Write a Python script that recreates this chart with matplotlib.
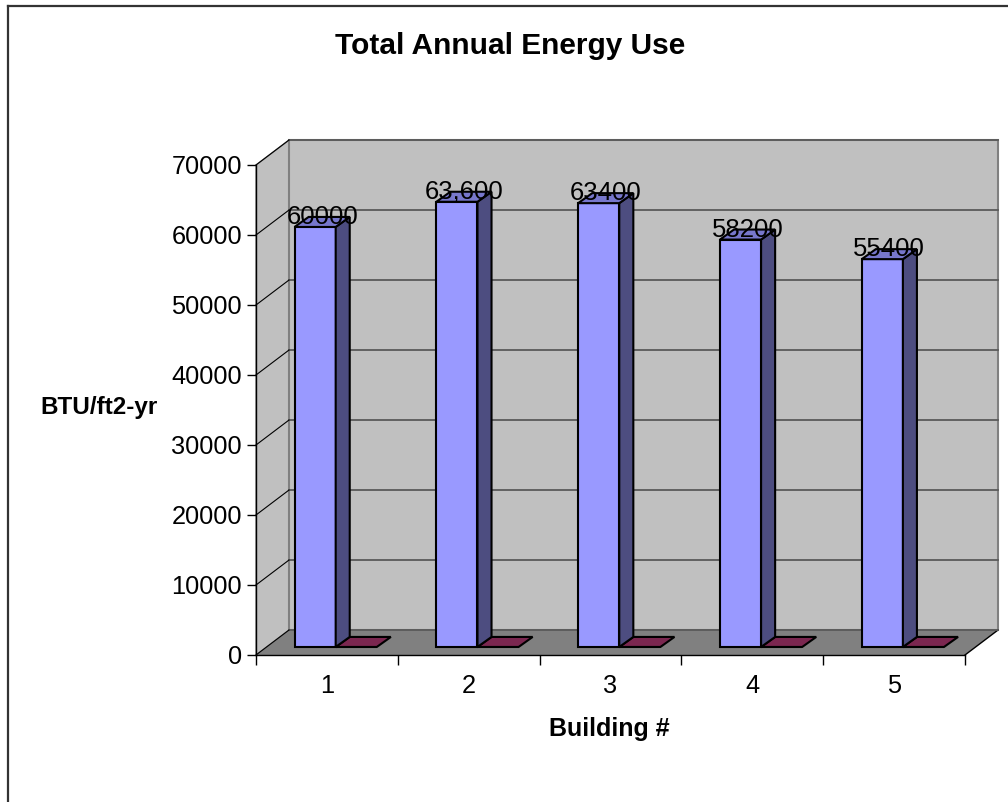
import matplotlib.pyplot as plt
from matplotlib.patches import Polygon
from matplotlib.lines import Line2D

plt.rcParams['font.family'] = ['Liberation Sans', 'DejaVu Sans']

buildings = ['1', '2', '3', '4', '5']
energy_use = [60000, 63600, 63400, 58200, 55400]
energy_labels = ['60000', '63,600', '63400', '58200', '55400']
second_series = [0, 0, 0, 0, 0]
y_ticks = [0, 10000, 20000, 30000, 40000, 50000, 60000, 70000]

# depth of the 3d box in data units (x in categories, y in BTU)
DX, DY = 0.233, 3570
# bar geometry inside each category slot
BASE = 1150
BW = 0.29
BDX, BDY = 0.099, 1430
YMAX = 70000

fig = plt.figure(figsize=(10.08, 8.02), dpi=100)
ax = fig.add_axes([256 / 1008, 1 - 655 / 802, 709 / 1008, 490 / 802])
ax.set_xlim(0.5, 5.5)
ax.set_ylim(0, YMAX)
ax.patch.set_visible(False)


def poly(pts, fc, ec='none', lw=0, z=1):
    ax.add_patch(Polygon(pts, closed=True, facecolor=fc, edgecolor=ec,
                         linewidth=lw, zorder=z, clip_on=False))


x0, x1 = 0.5, 5.5
# walls and floor
poly([(x0, 0), (x0 + DX, DY), (x0 + DX, YMAX + DY), (x0, YMAX)], '#C0C0C0', '#808080', 1.0, 0.5)
poly([(x0 + DX, DY), (x1 + DX, DY), (x1 + DX, YMAX + DY), (x0 + DX, YMAX + DY)],
     '#C0C0C0', '#808080', 1.5, 0.5)
poly([(x0, 0), (x1, 0), (x1 + DX, DY), (x0 + DX, DY)], '#808080', 'none', 0, 0.6)
ax.plot([x1, x1 + DX], [0, DY], color='black', lw=1.0, zorder=0.7, clip_on=False)

# gridlines on back wall and left wall
for v in y_ticks:
    ax.plot([x0 + DX, x1 + DX], [v + DY, v + DY], color='#5a5a5a', lw=1.3,
            zorder=0.8, clip_on=False)
    ax.plot([x0, x0 + DX], [v, v + DY], color='black', lw=0.8, zorder=0.8, clip_on=False)

xs = range(1, len(buildings) + 1)
for c, v, lab, v2 in zip(xs, energy_use, energy_labels, second_series):
    # second series (all zero): flat slab on the floor
    l2 = c + 0.062
    ax.bar(l2, v2, width=BW, bottom=BASE, align='edge', color='#993366',
           edgecolor='black', lw=1.5, zorder=2)
    poly([(l2, BASE + v2), (l2 + BW, BASE + v2), (l2 + BW + BDX, BASE + v2 + BDY),
          (l2 + BDX, BASE + v2 + BDY)], '#7B2750', 'black', 1.5, 2)

    # main series column
    l1 = c - 0.228
    r1 = l1 + BW
    top = BASE + v
    ax.bar(l1, v, width=BW, bottom=BASE, align='edge', color='#9999FF',
           edgecolor='black', lw=1.5, zorder=3)
    poly([(r1, BASE), (r1 + BDX, BASE + BDY), (r1 + BDX, top + BDY), (r1, top)],
         '#4D4D80', 'black', 1.5, 3)
    poly([(l1, top), (r1, top), (r1 + BDX, top + BDY), (l1 + BDX, top + BDY)],
         '#7777CC', 'black', 1.5, 3)
    ax.text(l1 + BW / 2 + BDX / 2, top + BDY, lab, ha='center', va='center',
            fontsize=18.5, zorder=4)

# axes
for s in ['top', 'right']:
    ax.spines[s].set_visible(False)
for s in ['left', 'bottom']:
    ax.spines[s].set_linewidth(1.0)
    ax.spines[s].set_zorder(5)

ax.set_yticks(y_ticks)
ax.set_yticklabels([str(t) for t in y_ticks])
ax.tick_params(axis='y', direction='out', length=6.5, width=1.0, pad=3.6, labelsize=18.3)

ax.set_xticks(list(xs))
ax.set_xticklabels(buildings)
ax.set_xticks([i + 0.5 for i in range(0, 6)], minor=True)
ax.tick_params(axis='x', which='major', length=0, pad=14, labelsize=18.3)
ax.tick_params(axis='x', which='minor', direction='out', length=7.2, width=1.0)

ax.set_xlabel('Building #', fontsize=18, fontweight='bold', va='center')
ax.xaxis.set_label_coords(0.498, -0.151)
ax.set_ylabel('BTU/ft2-yr', fontsize=17.5, fontweight='bold', rotation=0,
              ha='center', va='center')
ax.yaxis.set_label_coords(-0.2214, 0.506)

fig.text(510 / 1008, 1 - 46 / 802, 'Total Annual Energy Use', fontsize=21.5,
         fontweight='bold', ha='center', va='center')

# chart area border
fig.add_artist(Line2D([8 / 1008, 1.0], [1 - 6 / 802] * 2, color='#333333', lw=1.6))
fig.add_artist(Line2D([8 / 1008] * 2, [0.0, 1 - 6 / 802], color='#333333', lw=1.6))

fig.savefig('out.png', dpi=100)
